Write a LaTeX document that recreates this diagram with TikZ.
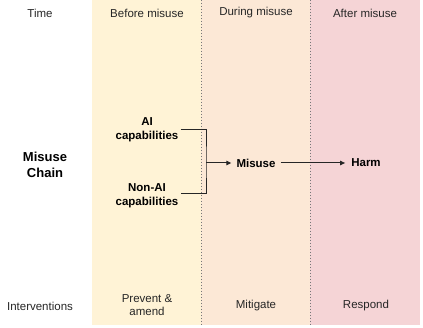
\documentclass[tikz,border=0pt]{standalone}
\usepackage{fontspec}
\setmainfont{Liberation Sans}
\usetikzlibrary{arrows.meta, positioning}
\definecolor{beforeyellow}{RGB}{255,243,214}
\definecolor{duringpeach}{RGB}{252,232,214}
\definecolor{afterpink}{RGB}{245,212,214}
\definecolor{dividergray}{RGB}{120,120,120}
\tikzset{
    band/.style={rectangle, fill=#1, draw=none, minimum width=109pt, minimum height=325pt, anchor=north west, inner sep=0pt},
    lbl/.style={font=\fontsize{11.5}{13.5}\selectfont, text=black!85, align=center, inner sep=2pt},
    chainbox/.style={font=\fontsize{11.5}{13.5}\selectfont\bfseries, align=center, inner sep=2pt},
    arrow/.style={-{Triangle[length=5pt, width=4.5pt]}, line width=1pt, black!85},
}

\begin{document}
\begin{tikzpicture}[x=1pt, y=-1pt]
\useasboundingbox (0,0) rectangle (423,328);

% Time bands
\node[band=beforeyellow] (before) at (92,0) {};
\node[band=duringpeach] (during) at (201,0) {};
\node[band=afterpink, minimum width=110pt] (after) at (310,0) {};
\draw[dividergray, line width=0.6pt, dash pattern=on 1.5pt off 1.5pt] (during.north west) -- (during.south west);
\draw[dividergray, line width=0.6pt, dash pattern=on 1.5pt off 1.5pt] (after.north west) -- (after.south west);

% Header row
\node[lbl] (time) at (40,13) {Time};
\node[lbl] (before-head) at (147,13) {Before misuse};
\node[lbl] (during-head) at (256,13) {During misuse};
\node[lbl] (after-head) at (365,13) {After misuse};

% Misuse chain
\node[chainbox, font=\fontsize{13}{16}\selectfont\bfseries] (chain) at (45,165) {Misuse\\Chain};
\node[chainbox] (ai-cap) at (147,129.5) {AI\\capabilities};
\node[chainbox] (nonai-cap) at (147,195.5) {Non-AI\\capabilities};
\node[chainbox, inner sep=5pt] (misuse) at (256,163) {Misuse};
\node[chainbox, inner sep=6pt] (harm) at (366,163) {Harm};
\coordinate (join) at (206,163);

% Connectors
\draw[line width=1pt, black!85] ([yshift=-0.5pt]ai-cap.east) -| (join) |- ([yshift=1.5pt]nonai-cap.east);
\draw[arrow] (join) -- (misuse.west);
\draw[arrow] (misuse.east) -- (harm.west);

% Interventions row
\node[lbl] (interventions) at (40,306) {Interventions};
\node[lbl] (prevent) at (147,305) {Prevent \&\\amend};
\node[lbl] (mitigate) at (256,306) {Mitigate};
\node[lbl] (respond) at (366,306) {Respond};

\end{tikzpicture}
\end{document}
